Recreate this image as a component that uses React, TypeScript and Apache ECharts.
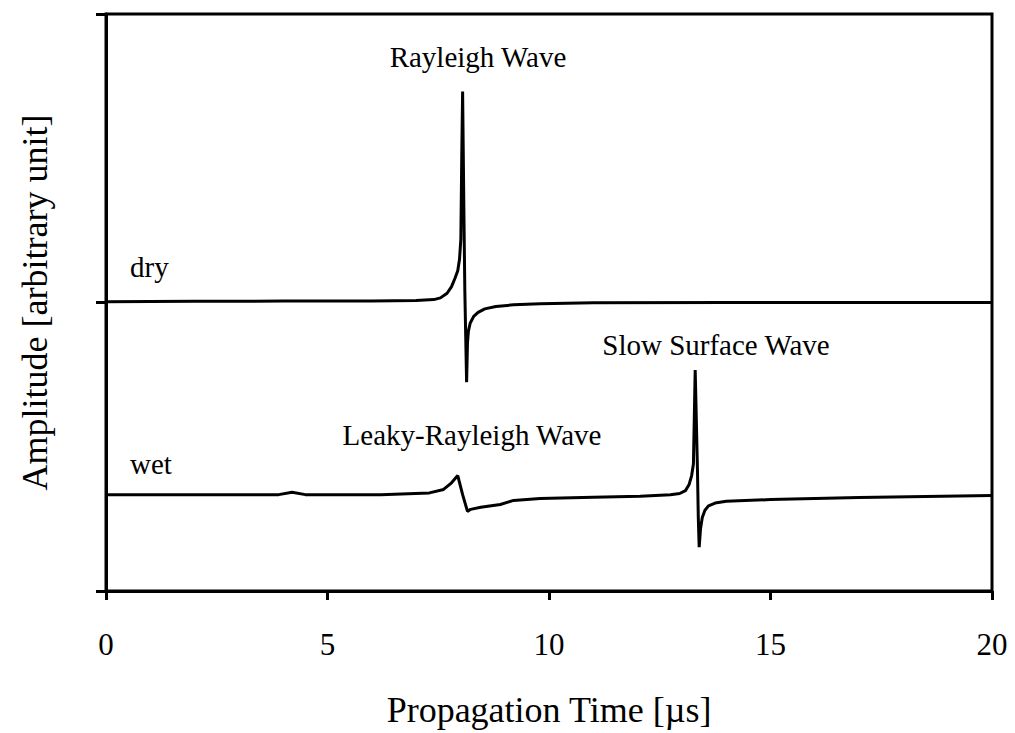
import React, { useEffect, useRef } from "react";
import * as echarts from "echarts";

// Propagation time in microseconds and amplitude (arbitrary units, dry trace offset to 1)
const dryTime = [0, 2, 4, 6, 7.0, 7.4, 7.55, 7.7, 7.8, 7.88, 7.94, 7.98, 8.01, 8.03, 8.05, 8.08, 8.1, 8.14, 8.16, 8.18, 8.22, 8.3, 8.4, 8.55, 8.8, 9.2, 9.8, 11, 14, 17, 20];
const dryAmp = [1.003, 1.004, 1.005, 1.005, 1.007, 1.01, 1.016, 1.032, 1.055, 1.085, 1.11, 1.15, 1.22, 1.5, 1.731, 1.3, 1.04, 0.724, 0.86, 0.9, 0.928, 0.952, 0.966, 0.978, 0.986, 0.992, 0.996, 0.999, 1.0, 1.0, 1.0];

const wetTime = [0, 2, 3.9, 4.2, 4.5, 6.2, 7.3, 7.62, 7.8, 7.94, 8.05, 8.16, 8.23, 8.46, 8.9, 9.2, 9.8, 11, 12.06, 12.74, 12.95, 13.08, 13.16, 13.22, 13.26, 13.28, 13.3, 13.35, 13.37, 13.39, 13.42, 13.46, 13.52, 13.6, 13.75, 14.0, 15, 17, 20];
const wetAmp = [0.334, 0.334, 0.334, 0.342, 0.334, 0.334, 0.34, 0.352, 0.375, 0.4, 0.334, 0.276, 0.283, 0.29, 0.3, 0.314, 0.321, 0.325, 0.328, 0.334, 0.338, 0.348, 0.368, 0.4, 0.44, 0.6, 0.766, 0.43, 0.255, 0.152, 0.215, 0.255, 0.28, 0.295, 0.305, 0.311, 0.317, 0.324, 0.331];

const xTicks = [0, 5, 10, 15, 20];

const annotations = [
  { text: "Rayleigh Wave", x: 478, y: 57, align: "center" },
  { text: "Leaky-Rayleigh Wave", x: 472, y: 435, align: "center" },
  { text: "Slow Surface Wave", x: 716, y: 345, align: "center" },
  { text: "dry", x: 130, y: 267, align: "left" },
  { text: "wet", x: 130, y: 464, align: "left" },
];

const FONT = "'Liberation Serif', 'Times New Roman', serif";

export default function App() {
  const ref = useRef<HTMLDivElement>(null);

  useEffect(() => {
    if (!ref.current) return;
    const chart = echarts.init(ref.current, undefined, { renderer: "svg" });
    const pairs = (t: number[], v: number[]) => t.map((x, i) => [x, v[i]]);
    const lineStyle = { color: "#000", width: 3 };

    chart.setOption({
      animation: false,
      backgroundColor: "#fff",
      grid: {
        left: 106,
        top: 14,
        right: 23,
        bottom: 139,
        show: true,
        borderColor: "#000",
        borderWidth: 3,
      },
      xAxis: {
        type: "value",
        min: 0,
        max: 20,
        interval: 5,
        name: "Propagation Time [µs]",
        nameLocation: "middle",
        nameGap: 119,
        nameTextStyle: { fontFamily: FONT, fontSize: 36, color: "#000", verticalAlign: "middle" },
        axisLine: { show: true, lineStyle: { color: "#000", width: 3 } },
        axisTick: { show: true, inside: false, length: 9, lineStyle: { color: "#000", width: 3 } },
        axisLabel: {
          fontFamily: FONT,
          fontSize: 31,
          color: "#000",
          margin: 53,
          verticalAlign: "middle",
          formatter: (v: number) => (xTicks.includes(v) ? String(v) : ""),
        },
        splitLine: { show: false },
      },
      yAxis: {
        type: "value",
        min: 0,
        max: 2,
        interval: 1,
        name: "Amplitude [arbitrary unit]",
        nameLocation: "middle",
        nameGap: 71,
        nameRotate: 90,
        nameTextStyle: { fontFamily: FONT, fontSize: 36, color: "#000", verticalAlign: "middle" },
        axisLine: { show: true, lineStyle: { color: "#000", width: 3 } },
        axisTick: { show: true, inside: false, length: 10, lineStyle: { color: "#000", width: 3 } },
        axisLabel: { show: false },
        splitLine: { show: false },
      },
      series: [
        {
          name: "dry",
          type: "line",
          data: pairs(dryTime, dryAmp),
          showSymbol: false,
          lineStyle,
          z: 3,
        },
        {
          name: "wet",
          type: "line",
          data: pairs(wetTime, wetAmp),
          showSymbol: false,
          lineStyle,
          z: 3,
        },
      ],
      graphic: annotations.map((a) => ({
        type: "text",
        x: a.x,
        y: a.y,
        style: {
          text: a.text,
          fontFamily: FONT,
          fontSize: 29,
          fill: "#000",
          align: a.align,
          verticalAlign: "middle",
        },
      })),
    });

    return () => chart.dispose();
  }, []);

  return (
    <div
      ref={ref}
      style={{ position: "fixed", left: 0, top: 0, width: 1015, height: 733 }}
    />
  );
}
